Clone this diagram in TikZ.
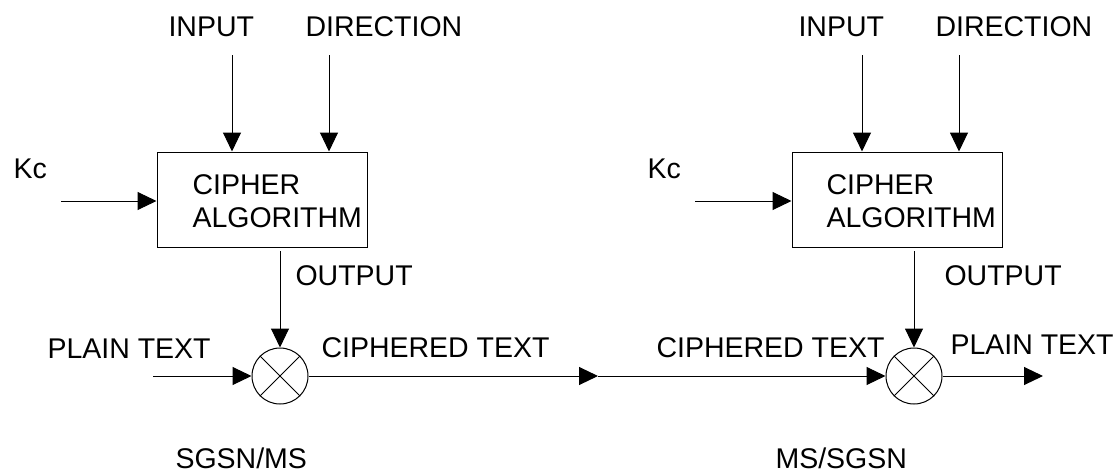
\documentclass[tikz,border=0pt]{standalone}
\usepackage{fontspec}
\setmainfont{Liberation Sans}
\usetikzlibrary{arrows.meta}
\begin{document}
\begin{tikzpicture}[x=1pt,y=-1pt,
  line width=1pt,
  lbl/.style={anchor=base west, inner sep=0pt, font=\fontsize{28.5}{33}\selectfont},
  blk/.style={draw, minimum width=210pt, minimum height=95pt, inner sep=0pt},
  xorc/.style={draw, circle, minimum size=56pt, inner sep=0pt},
  arr/.style={-{Triangle[length=19pt,width=18pt]}}]
\useasboundingbox (0,0) rectangle (1119,474);

% ---------- left side ----------
\node[blk] (b1) at (262,199.5) {};
\node[xorc] (c1) at (280,376) {};
\draw (c1.45) -- (c1.225) (c1.135) -- (c1.315);

\node[lbl] (in1) at (168,36) {INPUT};
\node[lbl] (dir1) at (305,36) {DIRECTION};
\node[lbl] (kc1) at (13,178) {Kc};
\node[lbl] (ciph1) at (192,194) {CIPHER};
\node[lbl] (alg1) at (192,227) {ALGORITHM};
\node[lbl] (out1) at (295,285) {OUTPUT};
\node[lbl] (pt1) at (47,358) {PLAIN TEXT};
\node[lbl] (ct1) at (321,357) {CIPHERED TEXT};
\node[lbl] (s1) at (175,468) {SGSN/MS};

\coordinate (ia1) at (232,55);
\coordinate (da1) at (329,55);
\coordinate (ka1) at (61,201);
\coordinate (pa1) at (153,376);
\coordinate (oa1) at (280,251);
\draw[arr] (ia1) -- (ia1 |- b1.north);
\draw[arr] (da1) -- (da1 |- b1.north);
\draw[arr] (ka1) -- (ka1 -| b1.west);
\draw[arr] (oa1) -- (c1.north);
\draw[arr] (pa1) -- (c1.west);

% ---------- middle ----------
\coordinate (mid) at (598,376);
\draw[arr] (c1.east) -- (mid);

% ---------- right side ----------
\node[blk] (b2) at (897,199.5) {};
\node[xorc] (c2) at (914,376) {};
\draw (c2.45) -- (c2.225) (c2.135) -- (c2.315);

\node[lbl] (in2) at (798,36) {INPUT};
\node[lbl] (dir2) at (935,36) {DIRECTION};
\node[lbl] (kc2) at (647,178) {Kc};
\node[lbl] (ciph2) at (826,194) {CIPHER};
\node[lbl] (alg2) at (826,227) {ALGORITHM};
\node[lbl] (out2) at (944,285) {OUTPUT};
\node[lbl] (pt2) at (950,354) {PLAIN TEXT};
\node[lbl] (ct2) at (656,357) {CIPHERED TEXT};
\node[lbl] (s2) at (775,468) {MS/SGSN};

\coordinate (ia2) at (862,55);
\coordinate (da2) at (959,55);
\coordinate (ka2) at (695,201);
\coordinate (oa2) at (914,251);
\coordinate (ea2) at (1043,376);
\draw[arr] (ia2) -- (ia2 |- b2.north);
\draw[arr] (da2) -- (da2 |- b2.north);
\draw[arr] (ka2) -- (ka2 -| b2.west);
\draw[arr] (oa2) -- (c2.north);
\draw[arr] (mid) -- (c2.west);
\draw[arr] (c2.east) -- (ea2);
\end{tikzpicture}
\end{document}
